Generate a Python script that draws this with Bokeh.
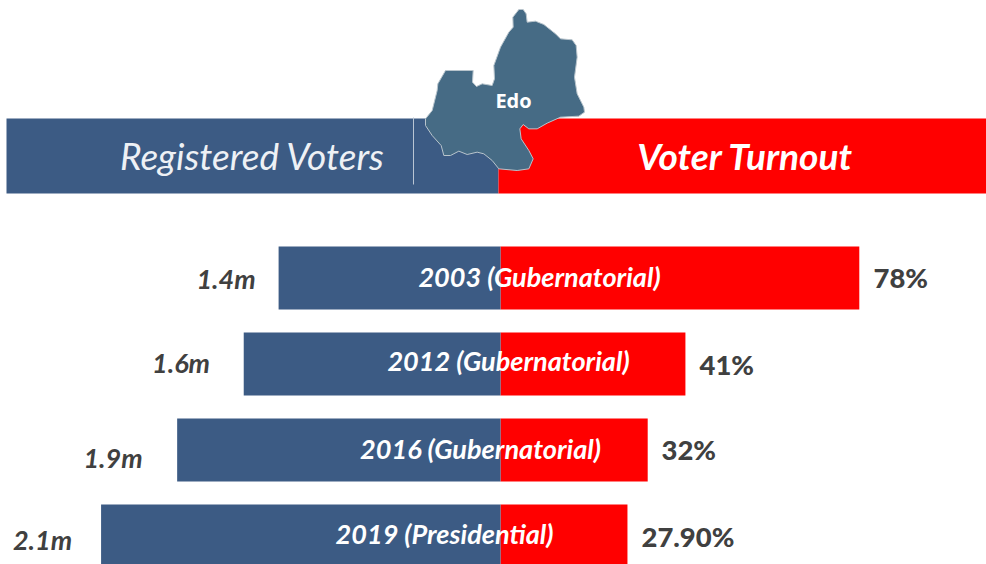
from bokeh.plotting import figure
from bokeh.models import Range1d, ColumnDataSource
from bokeh.core.properties import value
from bokeh.embed import file_html
from bokeh.resources import INLINE

# ---- data
elections = ["2003 (Gubernatorial)", "2012 (Gubernatorial)", "2016 (Gubernatorial)", "2019 (Presidential)"]
registered_labels = ["1.4m", "1.6m", "1.9m", "2.1m"]
turnout_labels = ["78%", "41%", "32%", "27.90%"]
registered_lengths = [1.40, 1.62, 2.04, 2.52]   # drawn bar lengths as read
turnout_lengths = [78, 40.2, 32, 27.6]          # drawn bar lengths as read
rows = [0, 1, 2, 3]

W, H = 986, 564
AXIS_X = 500
PX_PER_M = 158.5
PX_PER_PCT = 4.6
ROW_0, ROW_STEP = 277.5, 86.0

BLUE = "#3c5b84"
RED = "#ff0000"
MAP = "#466b85"
DARK = "#404040"

p = figure(width=W, height=H, output_backend="svg", toolbar_location=None,
           x_range=Range1d(0, W), y_range=Range1d(H, 0), min_border=0,
           outline_line_color=None, background_fill_color="white")
p.styles = {"position": "absolute", "left": "0px", "top": "0px"}
p.axis.visible = False
p.grid.visible = False
p.extra_x_ranges = {
    "voters": Range1d(AXIS_X / PX_PER_M, -(W - AXIS_X) / PX_PER_M),
    "turnout": Range1d(-AXIS_X / PX_PER_PCT, (W - AXIS_X) / PX_PER_PCT),
}
p.extra_y_ranges = {"rows": Range1d((H - ROW_0) / ROW_STEP, -ROW_0 / ROW_STEP)}

# header band
p.quad(left=[6], right=[498], top=[118], bottom=[193], fill_color=BLUE, line_color=None)
p.quad(left=[498], right=[W], top=[118], bottom=[193], fill_color=RED, line_color=None)
p.segment(x0=[413], x1=[413], y0=[117], y1=[184], line_color="#b9c5d3", line_width=1)

# map of the state
z = [(345,40),(355,27),(368,27),(377,40),(380,65),(405,62),(430,72),(465,100),(480,115),(515,118),
     (527,135),(530,170),(522,230),(530,280),(550,320),(552,335),(535,347),(480,350),(440,368),
     (410,385),(385,385),(368,372),(358,385),(362,415),(385,450),(398,475),(385,505),(350,510),
     (295,505),(275,480),(250,460),(230,455),(200,462),(175,452),(150,465),(130,465),(122,435),
     (95,405),(75,375),(75,355),(95,330),(110,270),(112,250),(135,210),(218,210),(216,245),
     (228,258),(245,250),(275,255),(282,235),(280,195),(300,140),(325,95),(338,80),(337,50)]
p.patch([400 + a / 3 for a, _ in z], [b / 3 for _, b in z],
        fill_color=MAP, line_color="#b8c4cc", line_width=1)
p.text(x=[513], y=[100], text=["Edo"], text_color="white", text_font=value("Open Sans"),
       text_font_style="bold", text_font_size="20px", text_align="center", text_baseline="middle")

# header texts
p.text(x=[252], y=[155], text=["Registered Voters"], text_color="#eef1f5", text_font=value("Lato"),
       text_font_style="italic", text_font_size="37px", text_align="center", text_baseline="middle")
p.text(x=[745], y=[155], text=["Voter Turnout"], text_color="white", text_font=value("Lato"),
       text_font_style="bold italic", text_font_size="37px", text_align="center", text_baseline="middle")

# bars
src = ColumnDataSource(dict(
    row=rows, election=elections, reg=registered_lengths, turn=turnout_lengths,
    reg_label=registered_labels, turn_label=turnout_labels,
    zero=[0, 0, 0, 0],
    title_x=[539, 508, 480, 444], title_dy=[-2, -4, -2, -3],
    reg_x=[225.5, 180.5, 112.5, 42], reg_dy=[0, -2, 7, 3],
    turn_x=[873, 699, 661, 641], turn_dy=[-1, 0, -1, 0],
))
p.hbar(y="row", left="zero", right="turn", height=0.73, source=src, fill_color=RED, line_color=None,
       x_range_name="turnout", y_range_name="rows")
p.hbar(y="row", left="zero", right="reg", height=0.73, source=src, fill_color=BLUE, line_color=None,
       x_range_name="voters", y_range_name="rows")

# labels
p.text(x="title_x", y="row", text="election", y_offset="title_dy", source=src, y_range_name="rows",
       text_color="white", text_font=value("Lato"), text_font_style="bold italic",
       text_font_size="27.1px", text_align="center", text_baseline="middle")
p.text(x="reg_x", y="row", text="reg_label", y_offset="reg_dy", source=src, y_range_name="rows",
       text_color=DARK, text_font=value("Lato"), text_font_style="bold italic",
       text_font_size="27px", text_align="center", text_baseline="middle")
p.text(x="turn_x", y="row", text="turn_label", y_offset="turn_dy", source=src, y_range_name="rows",
       text_color=DARK, text_font=value("Lato Black"), text_font_style="normal",
       text_font_size="27.45px", text_align="left", text_baseline="middle")

open("out.html", "w").write(file_html(p, INLINE))
